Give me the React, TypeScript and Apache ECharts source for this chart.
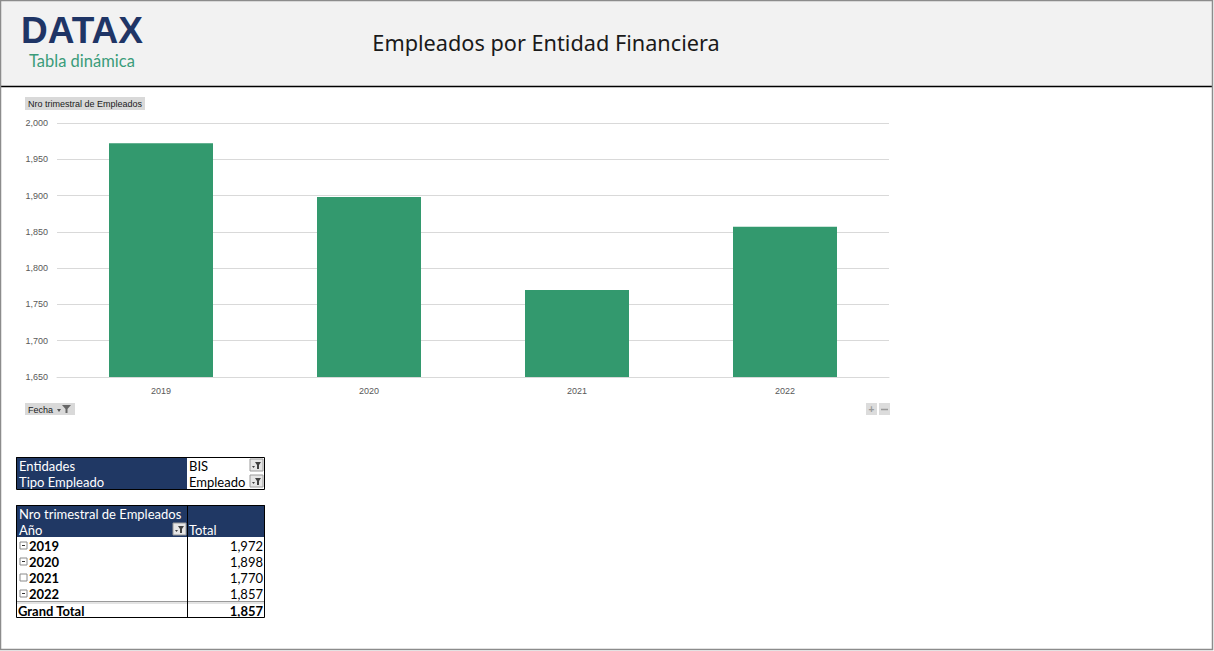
import React, { useEffect, useRef } from "react";
import * as echarts from "echarts";

const years = ["2019", "2020", "2021", "2022"];
const employees = [1972, 1898, 1770, 1857];
const grandTotal = 1857;
const yTicks = { min: 1650, max: 2000, step: 50 };
const filterRows = [
  ["Entidades", "BIS"],
  ["Tipo Empleado", "Empleado"],
];

const NAVY = "#203864";
const GREEN = "#33996e";
const FONT = "Lato, 'Open Sans', sans-serif";

function fmt(v: number) {
  return v.toLocaleString("en-US");
}

function filterIcon(x: number, y: number) {
  return {
    type: "group",
    x,
    y,
    children: [
      { type: "rect", shape: { x: 0, y: 0, width: 13, height: 12 }, style: { fill: "#e6e6e6", stroke: "#9a9a9a", lineWidth: 1 } },
      { type: "polygon", shape: { points: [[5, 3], [11, 3], [9, 6], [9, 10], [7, 10], [7, 6]] }, style: { fill: "#404040" } },
      { type: "polygon", shape: { points: [[2, 7], [5, 7], [3.5, 9]] }, style: { fill: "#404040" } },
    ],
  };
}

function expIcon(x: number, y: number, collapsed: boolean) {
  const ch: any[] = [
    { type: "rect", shape: { x: 0, y: 0, width: 7, height: 7 }, style: { fill: "#fff", stroke: "#8a8a8a", lineWidth: 1 } },
  ];
  if (!collapsed) ch.push({ type: "line", shape: { x1: 2, y1: 3.5, x2: 5, y2: 3.5 }, style: { stroke: "#333", lineWidth: 1 } });
  return { type: "group", x, y, children: ch };
}

export default function App() {
  const ref = useRef<HTMLDivElement>(null);
  useEffect(() => {
    if (!ref.current) return;
    const chart = echarts.init(ref.current, undefined, { renderer: "svg" });
    const g: any[] = [];
    // frame & header
    g.push({ type: "rect", z: -10, shape: { x: 0, y: 0, width: 1214, height: 651 }, style: { fill: "#ffffff" } });
    g.push({ type: "rect", z: -9, shape: { x: 0, y: 0, width: 1213, height: 86 }, style: { fill: "#f2f2f2" } });
    g.push({ type: "line", shape: { x1: 0, y1: 86.5, x2: 1213, y2: 86.5 }, style: { stroke: "#000", lineWidth: 1.5 } });
    g.push({ type: "rect", z: 10, shape: { x: 0.5, y: 0.5, width: 1212, height: 649 }, style: { fill: "none", stroke: "#8c8c8c", lineWidth: 1.5 } });
    g.push({ type: "text", x: 21, y: 30, style: { text: "DATAX", fill: "#1f3566", font: "bold 37px 'Liberation Sans', sans-serif", textVerticalAlign: "middle" } });
    g.push({ type: "text", x: 29, y: 61, style: { text: "Tabla dinámica", fill: "#3a9c7a", font: "16.5px Lato, sans-serif", textVerticalAlign: "middle" } });
    g.push({ type: "text", x: 546, y: 42, style: { text: "Empleados por Entidad Financiera", fill: "#1a1a1a", font: "21.7px 'Noto Sans', sans-serif", textAlign: "center", textVerticalAlign: "middle" } });

    // chart buttons
    const bf = "9px 'Liberation Sans', sans-serif";
    g.push({ type: "rect", shape: { x: 25, y: 97, width: 120, height: 13 }, style: { fill: "#d9d9d9" } });
    g.push({ type: "text", x: 28, y: 104, style: { text: "Nro trimestral de Empleados", fill: "#1a1a1a", font: bf, textVerticalAlign: "middle" } });
    g.push({ type: "rect", shape: { x: 25, y: 403, width: 50, height: 12 }, style: { fill: "#d9d9d9" } });
    g.push({ type: "text", x: 28, y: 409.5, style: { text: "Fecha", fill: "#1a1a1a", font: bf, textVerticalAlign: "middle" } });
    g.push({ type: "polygon", shape: { points: [[57, 409], [61, 409], [59, 412]] }, style: { fill: "#555" } });
    g.push({ type: "polygon", shape: { points: [[62, 405], [71, 405], [67.5, 409], [67.5, 413], [65.5, 413], [65.5, 409]] }, style: { fill: "#666" } });
    g.push({ type: "rect", shape: { x: 866, y: 403, width: 11, height: 12 }, style: { fill: "#dcdcdc" } });
    g.push({ type: "rect", shape: { x: 879, y: 403, width: 11, height: 12 }, style: { fill: "#dcdcdc" } });
    g.push({ type: "text", x: 871.5, y: 409, style: { text: "+", fill: "#9a9a9a", font: "bold 10px sans-serif", textAlign: "center", textVerticalAlign: "middle" } });
    g.push({ type: "line", shape: { x1: 881, y1: 409.5, x2: 888, y2: 409.5 }, style: { stroke: "#9a9a9a", lineWidth: 1.5 } });

    // filter table
    const tf = "13px " + FONT;
    filterRows.forEach((r, i) => {
      const y = 457 + i * 16;
      g.push({ type: "rect", shape: { x: 16, y, width: 171, height: 16 }, style: { fill: NAVY } });
      g.push({ type: "text", x: 19, y: y + 8.5, style: { text: r[0], fill: "#fff", font: tf, textVerticalAlign: "middle" } });
      g.push({ type: "text", x: 189, y: y + 8.5, style: { text: r[1], fill: "#000", font: tf, textVerticalAlign: "middle" } });
      g.push(filterIcon(250, y + 2));
    });
    g.push({ type: "rect", shape: { x: 16.5, y: 457.5, width: 248, height: 32 }, style: { fill: "none", stroke: "#000", lineWidth: 1 } });

    // pivot table
    g.push({ type: "rect", shape: { x: 16, y: 505, width: 249, height: 32 }, style: { fill: NAVY } });
    g.push({ type: "text", x: 19, y: 513.5, style: { text: "Nro trimestral de Empleados", fill: "#fff", font: tf, textVerticalAlign: "middle" } });
    g.push({ type: "text", x: 19, y: 529.5, style: { text: "Año", fill: "#fff", font: tf, textVerticalAlign: "middle" } });
    g.push({ type: "text", x: 189, y: 529.5, style: { text: "Total", fill: "#fff", font: tf, textVerticalAlign: "middle" } });
    g.push(filterIcon(173, 523));
    years.forEach((yr, i) => {
      const y = 537 + i * 16;
      g.push(expIcon(20, y + 5, i === 2));
      g.push({ type: "text", x: 29, y: y + 8.5, style: { text: yr, fill: "#000", font: "bold " + tf, textVerticalAlign: "middle" } });
      g.push({ type: "text", x: 263, y: y + 8.5, style: { text: fmt(employees[i]), fill: "#000", font: tf, textAlign: "right", textVerticalAlign: "middle" } });
    });
    g.push({ type: "line", shape: { x1: 16, y1: 601.5, x2: 265, y2: 601.5 }, style: { stroke: "#9a9a9a", lineWidth: 1 } });
    g.push({ type: "line", shape: { x1: 16, y1: 603, x2: 265, y2: 603 }, style: { stroke: "#c8c8c8", lineWidth: 1 } });
    g.push({ type: "text", x: 18, y: 610.5, style: { text: "Grand Total", fill: "#000", font: "bold " + tf, textVerticalAlign: "middle" } });
    g.push({ type: "text", x: 263, y: 610.5, style: { text: fmt(grandTotal), fill: "#000", font: "bold " + tf, textAlign: "right", textVerticalAlign: "middle" } });
    g.push({ type: "line", shape: { x1: 187.5, y1: 505, x2: 187.5, y2: 618 }, style: { stroke: "#000", lineWidth: 1 } });
    g.push({ type: "rect", shape: { x: 16.5, y: 505.5, width: 248, height: 112 }, style: { fill: "none", stroke: "#000", lineWidth: 1 } });

    chart.setOption({
      animation: false,
      graphic: g,
      grid: { left: 57, right: 325, top: 123, bottom: 274 },
      xAxis: {
        type: "category",
        data: years,
        axisTick: { show: false },
        axisLine: { lineStyle: { color: "#d9d9d9" } },
        axisLabel: { color: "#595959", fontSize: 9, fontFamily: "'Liberation Sans', sans-serif", margin: 9 },
      },
      yAxis: {
        type: "value",
        min: yTicks.min,
        max: yTicks.max,
        interval: yTicks.step,
        axisLabel: { color: "#595959", fontSize: 9, fontFamily: "'Liberation Sans', sans-serif", margin: 9, formatter: (v: number) => fmt(v) },
        splitLine: { lineStyle: { color: "#d9d9d9" } },
      },
      series: [
        { type: "bar", data: employees, barWidth: "50%", itemStyle: { color: GREEN } },
      ],
    });
    return () => chart.dispose();
  }, []);
  return (
    <div style={{ position: "fixed", left: 0, top: 0, width: 1214, height: 651, background: "#fff" }}>
      <div ref={ref} style={{ width: 1214, height: 651 }} />
    </div>
  );
}
